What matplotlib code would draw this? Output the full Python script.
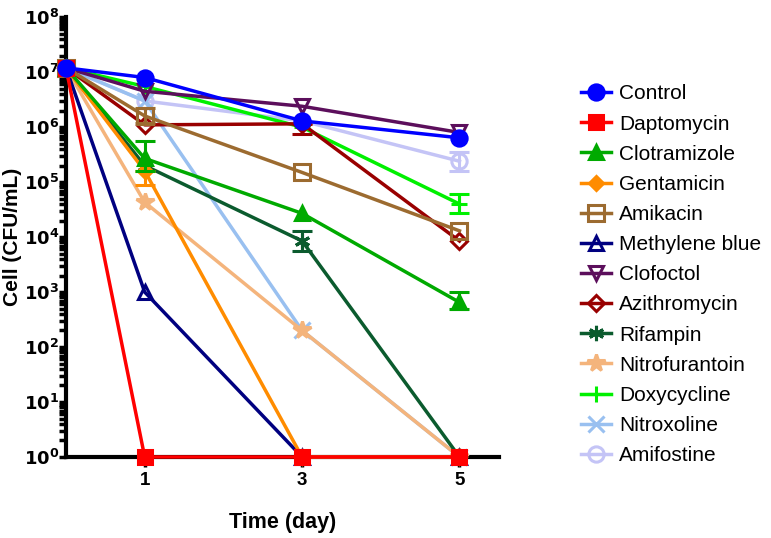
import numpy as np
import matplotlib
matplotlib.use("Agg")
import matplotlib.pyplot as plt
from matplotlib.ticker import LogLocator, FixedLocator, FuncFormatter

plt.rcParams['font.family'] = ['Liberation Sans', 'DejaVu Sans']

# time points (day)
days = [0, 1, 3, 5]

# cell counts (CFU/mL)
names = ['Control', 'Daptomycin', 'Clotramizole', 'Gentamicin', 'Amikacin',
         'Methylene blue', 'Clofoctol', 'Azithromycin', 'Rifampin',
         'Nitrofurantoin', 'Doxycycline', 'Nitroxoline', 'Amifostine']

control = [1.2e7, 8.0e6, 1.3e6, 6.4e5]
daptomycin = [1.2e7, 1, 1, 1]
clotramizole = [1.2e7, 2.7e5, 2.7e4, 6.5e2]
gentamicin = [1.2e7, 1.6e5, 1, 1]
amikacin = [1.2e7, 1.6e6, 1.5e5, 1.3e4]
methylene_blue = [1.2e7, 1.0e3, 1, 1]
clofoctol = [1.2e7, 4.5e6, 2.4e6, 8.0e5]
azithromycin = [1.2e7, 1.1e6, 1.15e6, 8.5e3]
rifampin = [1.2e7, 2.0e5, 8.5e3, 1]
nitrofurantoin = [1.2e7, 4.3e4, 2.0e2, 1]
doxycycline = [1.2e7, 5.5e6, 1.0e6, 4.0e4]
nitroxoline = [1.2e7, 3.0e6, 2.0e2, 1]
amifostine = [1.2e7, 3.0e6, 1.3e6, 2.4e5]

# visible error bars: (low, high) per point, None where no bar shows
err_lo = {
    'Clotramizole': [None, 1.6e5, None, 5.0e2],
    'Gentamicin': [None, 9.0e4, None, None],
    'Azithromycin': [None, None, 7.5e5, None],
    'Rifampin': [None, None, 5.5e3, None],
    'Doxycycline': [None, None, None, 2.8e4],
    'Amifostine': [None, None, None, 1.6e5],
    'Amikacin': [None, 1.2e6, None, None],
}
err_hi = {
    'Clotramizole': [None, 5.5e5, None, 1.0e3],
    'Gentamicin': [None, 1.6e5, None, None],
    'Azithromycin': [None, None, 1.15e6, None],
    'Rifampin': [None, None, 1.3e4, None],
    'Doxycycline': [None, None, None, 6.0e4],
    'Amifostine': [None, None, None, 3.5e5],
    'Amikacin': [None, 2.2e6, None, None],
}

series = [control, daptomycin, clotramizole, gentamicin, amikacin,
          methylene_blue, clofoctol, azithromycin, rifampin,
          nitrofurantoin, doxycycline, nitroxoline, amifostine]

colors = ['#0000FF', '#FF0000', '#00AA00', '#FF8C00', '#9C6B30',
          '#000080', '#5C0F5C', '#990000', '#0B5B2E',
          '#F4B47C', '#00F000', '#99C0F0', '#C4C4F6']
markers = ['o', 's', '^', 'D', 's', '^', 'v', 'D', (6, 2, 0),
           '*', '+', 'x', 'o']
filled = [True, True, True, True, False, False, False, False, True,
          True, True, True, False]
msizes = [11, 10, 10, 7, 11, 10, 10, 8, 11, 13, 12, 11, 11]

fig = plt.figure(figsize=(7.71, 5.38), dpi=100)
ax = fig.add_axes([0.0856, 0.1506, 0.5614, 0.8174])

n = len(names)
handles = []
for i in range(n - 1, -1, -1):
    name = names[i]
    c = colors[i]
    fc = c if filled[i] else 'none'
    h, = ax.plot(days, series[i], color=c, lw=2.5, marker=markers[i],
                 ms=msizes[i], mfc=fc, mec=c, mew=2.2,
                 clip_on=False, zorder=3 + (n - i) * 0.1, label=name)
    handles.append(h)
    if name in err_lo:
        for j, (lo, hi) in enumerate(zip(err_lo[name], err_hi[name])):
            if lo is None:
                continue
            y = series[i][j]
            ax.errorbar([days[j]], [y], yerr=[[y - lo], [hi - y]],
                        fmt='none', ecolor=c, elinewidth=2.2, capsize=7,
                        capthick=2.2, zorder=3 + (n - i) * 0.1,
                        clip_on=False)
handles = handles[::-1]

ax.set_yscale('log')
ax.set_ylim(1, 1e8)
ax.set_xlim(0, 5.5)

ax.yaxis.set_major_locator(LogLocator(base=10, numticks=20))
ax.yaxis.set_minor_locator(LogLocator(base=10, subs=np.arange(2, 10), numticks=20))
ax.yaxis.set_major_formatter(FuncFormatter(
    lambda v, p: r'$\mathbf{10^{%d}}$' % round(np.log10(v))))
ax.xaxis.set_major_locator(FixedLocator([1, 3, 5]))

for s in ['top', 'right']:
    ax.spines[s].set_visible(False)
for s in ['left', 'bottom']:
    ax.spines[s].set_linewidth(3)
    ax.spines[s].set_zorder(2)

ax.tick_params(axis='y', which='major', length=5, width=2.5, labelsize=13, pad=0)
ax.tick_params(axis='y', which='minor', length=5, width=2.5)
ax.tick_params(axis='x', which='major', length=7, width=2.5, labelsize=13.5, pad=4)
for lab in ax.get_xticklabels():
    lab.set_fontweight('bold')

ax.set_xlabel('Time (day)', fontsize=15.5, fontweight='bold')
ax.xaxis.set_label_coords(0.5, -0.125)
ax.set_ylabel('Cell (CFU/mL)', fontsize=15, fontweight='bold')
ax.yaxis.set_label_coords(-0.102, 0.5)

fig.legend(handles=handles, labels=names, loc='upper left',
           bbox_to_anchor=(0.754, 0.843), frameon=False, fontsize=15,
           handlelength=1.4, handletextpad=0.4, labelspacing=0.535,
           borderaxespad=0, borderpad=0)

fig.savefig('out.png', dpi=100)
